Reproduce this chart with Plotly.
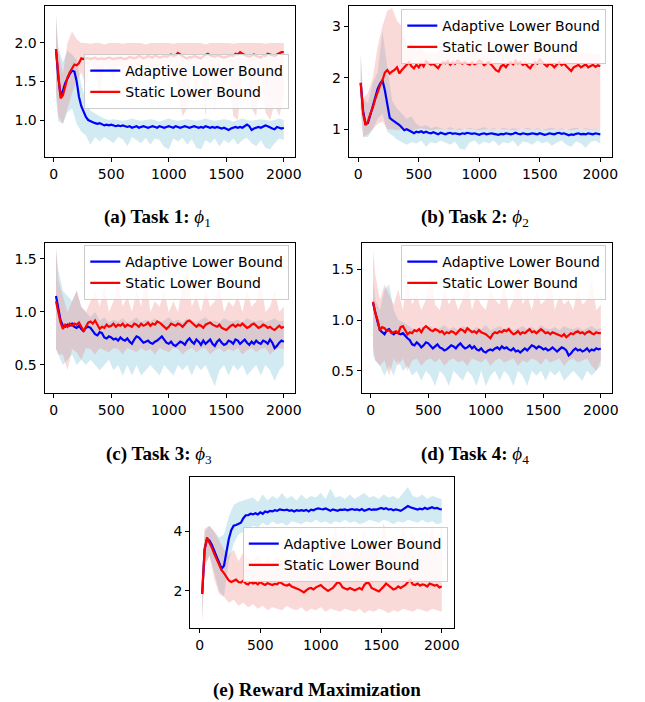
import plotly.graph_objects as go

# ---------------- data ----------------
STEPS = list(range(20, 2001, 20))            # x of mean curves (100 points)
BAND_STEPS = [20] + list(range(40, 2001, 40))  # x of min/max bands (51 points)

SERIES_NAMES = ["Adaptive Lower Bound", "Static Lower Bound"]
PANEL_TITLES = [
    "<b>(a) Task 1:</b> <i>ϕ</i><sub>1</sub>",
    "<b>(b) Task 2:</b> <i>ϕ</i><sub>2</sub>",
    "<b>(c) Task 3:</b> <i>ϕ</i><sub>3</sub>",
    "<b>(d) Task 4:</b> <i>ϕ</i><sub>4</sub>",
    "<b>(e) Reward Maximization</b>",
]
X_TICKS = [0, 500, 1000, 1500, 2000]

# ---- (a) Task 1 ----
A_ADAPT_MEAN = [
    1.92, 1.55, 1.32, 1.38, 1.48, 1.55, 1.60, 1.64, 1.63, 1.50, 1.30, 1.18, 1.10, 1.04, 1.00, 0.98, 0.97, 0.96, 0.95, 0.96,
    0.94, 0.93, 0.94, 0.93, 0.94, 0.93, 0.92, 0.93, 0.92, 0.93, 0.92, 0.91, 0.92, 0.90, 0.91, 0.92, 0.90, 0.91, 0.92, 0.91,
    0.90, 0.91, 0.92, 0.91, 0.90, 0.92, 0.91, 0.90, 0.91, 0.92, 0.91, 0.90, 0.92, 0.91, 0.90, 0.91, 0.92, 0.91, 0.90, 0.91,
    0.92, 0.91, 0.90, 0.91, 0.90, 0.92, 0.91, 0.90, 0.91, 0.90, 0.91, 0.90, 0.89, 0.90, 0.88, 0.87, 0.89, 0.90, 0.91, 0.90,
    0.91, 0.90, 0.92, 0.94, 0.92, 0.87, 0.89, 0.90, 0.91, 0.90, 0.92, 0.93, 0.92, 0.90, 0.89, 0.88, 0.91, 0.90, 0.89, 0.90,
]
A_STATIC_MEAN = [
    1.92, 1.55, 1.28, 1.32, 1.45, 1.55, 1.62, 1.68, 1.72, 1.71, 1.74, 1.80, 1.79, 1.80, 1.80, 1.79, 1.80, 1.81, 1.79, 1.80,
    1.80, 1.79, 1.80, 1.81, 1.80, 1.79, 1.80, 1.80, 1.81, 1.80, 1.79, 1.80, 1.82, 1.81, 1.80, 1.81, 1.83, 1.82, 1.80, 1.81,
    1.83, 1.82, 1.81, 1.84, 1.83, 1.81, 1.82, 1.83, 1.82, 1.84, 1.85, 1.83, 1.84, 1.87, 1.85, 1.82, 1.81, 1.80, 1.82, 1.81,
    1.83, 1.82, 1.81, 1.80, 1.83, 1.84, 1.86, 1.84, 1.83, 1.82, 1.84, 1.83, 1.82, 1.81, 1.82, 1.83, 1.84, 1.83, 1.86, 1.85,
    1.88, 1.86, 1.84, 1.83, 1.82, 1.84, 1.85, 1.83, 1.82, 1.81, 1.84, 1.83, 1.86, 1.85, 1.84, 1.83, 1.85, 1.87, 1.88, 1.88,
]
A_ADAPT_HI = [
    2.40, 1.95, 1.75, 1.90, 1.85, 1.78, 1.45, 1.25, 1.12, 1.08,
    1.05, 1.02, 1.00, 1.01, 1.00, 0.99, 1.00, 1.02, 1.00, 0.99,
    1.00, 1.01, 1.00, 0.98, 1.00, 1.02, 1.00, 0.99, 1.00, 1.01,
    1.00, 0.99, 1.00, 1.02, 1.00, 0.99, 1.00, 1.01, 1.00, 0.98,
    1.00, 1.02, 1.00, 0.99, 1.00, 1.01, 1.00, 0.99, 1.00, 1.02,
    1.00,
]
A_ADAPT_LO = [
    1.30, 0.98, 0.95, 1.10, 1.15, 0.95, 0.85, 0.80, 0.68, 0.78,
    0.72, 0.78, 0.74, 0.70, 0.78, 0.75, 0.66, 0.78, 0.74, 0.70,
    0.77, 0.68, 0.76, 0.74, 0.65, 0.62, 0.76, 0.72, 0.77, 0.68,
    0.75, 0.64, 0.62, 0.74, 0.70, 0.76, 0.66, 0.74, 0.70, 0.76,
    0.68, 0.74, 0.77, 0.70, 0.66, 0.74, 0.64, 0.62, 0.70, 0.76,
    0.74,
]
A_STATIC_HI = [
    2.30, 1.90, 1.60, 2.00, 2.15, 2.05, 2.00, 2.00, 1.99, 2.00,
    2.00, 1.98, 2.00, 2.00, 2.00, 1.99, 2.00, 2.00, 2.00, 2.00,
    1.98, 2.00, 2.00, 2.00, 2.00, 2.00, 1.99, 2.00, 2.00, 2.00,
    2.00, 2.00, 2.00, 1.98, 2.00, 2.00, 2.00, 2.00, 2.00, 1.99,
    2.00, 2.00, 2.00, 2.00, 2.00, 2.00, 1.99, 2.00, 2.00, 2.00,
    2.00,
]
A_STATIC_LO = [
    1.40, 1.05, 0.95, 1.15, 1.35, 1.50, 1.62, 1.45, 1.70, 1.66,
    1.30, 1.72, 1.68, 1.50, 1.72, 1.65, 1.70, 1.25, 1.70, 1.72,
    1.66, 1.70, 1.45, 1.72, 1.68, 1.60, 1.72, 1.40, 1.05, 1.15,
    1.70, 1.20, 1.68, 1.05, 1.60, 1.10, 1.65, 1.30, 1.72, 1.05,
    1.00, 1.60, 1.72, 1.15, 1.05, 1.68, 1.10, 1.00, 1.20, 1.05,
    1.30,
]

# ---- (b) Task 2 ----
B_ADAPT_MEAN = [
    1.90, 1.35, 1.10, 1.12, 1.28, 1.45, 1.62, 1.78, 1.88, 1.95, 1.75, 1.45, 1.22, 1.18, 1.15, 1.12, 1.08, 1.03, 0.98, 1.00,
    0.98, 0.95, 0.92, 0.95, 0.94, 0.96, 0.93, 0.95, 0.93, 0.92, 0.94, 0.92, 0.90, 0.93, 0.92, 0.90, 0.92, 0.93, 0.91, 0.92,
    0.91, 0.90, 0.92, 0.91, 0.93, 0.92, 0.91, 0.92, 0.90, 0.89, 0.91, 0.92, 0.90, 0.91, 0.92, 0.91, 0.90, 0.89, 0.91, 0.90,
    0.92, 0.91, 0.90, 0.91, 0.93, 0.91, 0.90, 0.92, 0.91, 0.90, 0.91, 0.92, 0.91, 0.90, 0.92, 0.91, 0.89, 0.90, 0.92, 0.91,
    0.90, 0.92, 0.93, 0.91, 0.92, 0.90, 0.88, 0.90, 0.89, 0.91, 0.92, 0.90, 0.91, 0.90, 0.92, 0.91, 0.90, 0.92, 0.91, 0.90,
]
B_STATIC_MEAN = [
    1.90, 1.30, 1.08, 1.15, 1.30, 1.42, 1.58, 1.72, 1.85, 1.95, 2.10, 2.15, 2.08, 2.12, 2.15, 2.20, 2.08, 2.15, 2.20, 2.25,
    2.30, 2.22, 2.18, 2.25, 2.20, 2.28, 2.22, 2.32, 2.28, 2.25, 2.27, 2.22, 2.18, 2.26, 2.30, 2.28, 2.32, 2.25, 2.30, 2.27,
    2.33, 2.30, 2.27, 2.30, 2.28, 2.25, 2.30, 2.26, 2.28, 2.33, 2.30, 2.24, 2.28, 2.30, 2.25, 2.20, 2.14, 2.12, 2.22, 2.25,
    2.20, 2.27, 2.30, 2.26, 2.33, 2.28, 2.30, 2.25, 2.28, 2.22, 2.18, 2.25, 2.30, 2.27, 2.35, 2.30, 2.25, 2.22, 2.28, 2.25,
    2.20, 2.26, 2.30, 2.24, 2.28, 2.22, 2.18, 2.13, 2.20, 2.22, 2.25, 2.20, 2.23, 2.26, 2.20, 2.22, 2.25, 2.21, 2.24, 2.22,
]
B_ADAPT_HI = [
    2.45, 1.60, 1.50, 1.90, 2.10, 2.90, 2.20, 1.55, 1.40, 1.30,
    1.20, 1.25, 1.10, 1.05, 1.08, 1.02, 1.05, 1.02, 1.00, 1.04,
    1.00, 1.02, 0.99, 1.03, 1.00, 1.01, 1.04, 1.00, 1.02, 0.99,
    1.03, 1.00, 1.02, 1.01, 1.00, 1.03, 0.99, 1.02, 1.00, 1.01,
    1.03, 1.00, 1.02, 0.99, 1.01, 1.03, 1.00, 1.02, 1.00, 1.01,
    1.00,
]
B_ADAPT_LO = [
    1.40, 0.85, 0.85, 1.00, 1.20, 1.30, 0.95, 0.88, 0.80, 0.75,
    0.70, 0.75, 0.72, 0.78, 0.66, 0.75, 0.72, 0.78, 0.74, 0.70,
    0.76, 0.62, 0.60, 0.74, 0.78, 0.70, 0.76, 0.72, 0.78, 0.68,
    0.75, 0.72, 0.78, 0.66, 0.76, 0.74, 0.70, 0.78, 0.72, 0.76,
    0.68, 0.74, 0.78, 0.70, 0.66, 0.76, 0.72, 0.64, 0.75, 0.78,
    0.72,
]
B_STATIC_HI = [
    2.45, 1.60, 1.70, 2.00, 2.60, 3.00, 3.30, 3.35, 3.10, 3.00,
    2.60, 2.70, 2.55, 2.60, 2.45, 2.50, 2.45, 2.55, 2.45, 2.50,
    2.45, 2.48, 2.45, 2.50, 2.55, 2.45, 2.50, 2.45, 2.48, 2.52,
    2.45, 2.50, 2.45, 2.55, 2.48, 2.45, 2.50, 2.60, 2.50, 2.45,
    2.48, 2.45, 2.50, 2.45, 2.48, 2.45, 2.50, 2.45, 2.48, 2.45,
    2.45,
]
B_STATIC_LO = [
    1.40, 0.85, 0.90, 1.00, 1.10, 1.15, 1.00, 1.00, 0.98, 1.00,
    1.00, 0.98, 1.00, 1.02, 1.00, 0.98, 1.00, 1.00, 0.99, 1.00,
    1.00, 0.99, 1.00, 1.01, 1.00, 0.98, 1.00, 1.00, 0.99, 1.00,
    1.00, 1.00, 0.98, 1.00, 1.01, 1.00, 0.99, 1.00, 1.00, 0.98,
    1.00, 0.99, 1.00, 1.00, 0.98, 1.00, 1.01, 1.00, 0.99, 1.00,
    1.00,
]

# ---- (c) Task 3 ----
C_ADAPT_MEAN = [
    1.15, 1.05, 0.92, 0.87, 0.86, 0.88, 0.87, 0.89, 0.86, 0.85, 0.87, 0.84, 0.82, 0.85, 0.86, 0.85, 0.82, 0.79, 0.78, 0.81,
    0.80, 0.76, 0.75, 0.77, 0.76, 0.74, 0.75, 0.73, 0.76, 0.74, 0.73, 0.75, 0.72, 0.70, 0.74, 0.77, 0.76, 0.73, 0.71, 0.72,
    0.73, 0.71, 0.70, 0.72, 0.73, 0.75, 0.77, 0.74, 0.71, 0.70, 0.72, 0.69, 0.68, 0.70, 0.72, 0.71, 0.69, 0.73, 0.75, 0.72,
    0.70, 0.74, 0.72, 0.69, 0.73, 0.70, 0.72, 0.74, 0.70, 0.68, 0.72, 0.74, 0.71, 0.69, 0.70, 0.73, 0.72, 0.70, 0.74, 0.73,
    0.70, 0.72, 0.74, 0.71, 0.69, 0.72, 0.70, 0.73, 0.71, 0.70, 0.73, 0.72, 0.70, 0.74, 0.71, 0.66, 0.68, 0.71, 0.73, 0.72,
]
C_STATIC_MEAN = [
    1.10, 1.00, 0.90, 0.84, 0.88, 0.86, 0.89, 0.87, 0.89, 0.88, 0.90, 0.86, 0.82, 0.86, 0.90, 0.91, 0.89, 0.92, 0.88, 0.84,
    0.86, 0.85, 0.88, 0.86, 0.87, 0.89, 0.86, 0.88, 0.87, 0.89, 0.86, 0.88, 0.87, 0.86, 0.89, 0.88, 0.86, 0.89, 0.87, 0.88,
    0.90, 0.87, 0.89, 0.88, 0.91, 0.90, 0.88, 0.86, 0.84, 0.86, 0.89, 0.88, 0.87, 0.89, 0.88, 0.86, 0.89, 0.91, 0.92, 0.90,
    0.88, 0.86, 0.88, 0.87, 0.85, 0.88, 0.89, 0.90, 0.88, 0.87, 0.86, 0.88, 0.85, 0.84, 0.83, 0.85, 0.87, 0.88, 0.86, 0.88,
    0.87, 0.89, 0.87, 0.85, 0.86, 0.88, 0.89, 0.87, 0.85, 0.86, 0.88, 0.87, 0.85, 0.86, 0.84, 0.83, 0.85, 0.87, 0.85, 0.86,
]
C_ADAPT_HI = [
    1.60, 1.40, 1.20, 1.15, 1.10, 1.20, 1.05, 1.00, 0.95, 1.00,
    0.92, 0.95, 0.90, 0.93, 0.91, 0.94, 0.90, 0.92, 0.95, 0.90,
    0.93, 0.91, 0.94, 0.90, 0.92, 0.95, 0.91, 0.93, 0.90, 0.94,
    0.92, 0.90, 0.93, 0.95, 0.91, 0.92, 0.90, 0.94, 0.92, 0.91,
    0.93, 0.90, 0.94, 0.92, 0.91, 0.93, 0.90, 0.92, 0.94, 0.91,
    0.92,
]
C_ADAPT_LO = [
    0.65, 0.60, 0.50, 0.55, 0.60, 0.50, 0.55, 0.50, 0.55, 0.50,
    0.45, 0.50, 0.55, 0.45, 0.50, 0.40, 0.50, 0.40, 0.50, 0.40,
    0.45, 0.50, 0.45, 0.40, 0.50, 0.45, 0.40, 0.50, 0.45, 0.50,
    0.40, 0.50, 0.45, 0.50, 0.40, 0.30, 0.45, 0.50, 0.40, 0.50,
    0.45, 0.50, 0.40, 0.45, 0.50, 0.40, 0.50, 0.45, 0.35, 0.45,
    0.50,
]
C_STATIC_HI = [
    1.60, 1.30, 1.15, 1.00, 1.10, 1.20, 1.05, 1.00, 1.10, 1.20,
    1.05, 1.25, 1.00, 1.10, 1.30, 1.05, 1.15, 1.00, 1.20, 1.05,
    1.35, 1.00, 1.10, 1.05, 1.20, 1.00, 1.10, 1.00, 1.25, 1.40,
    1.05, 1.15, 1.00, 1.20, 1.05, 1.10, 1.25, 1.00, 1.10, 1.05,
    1.15, 1.00, 1.20, 1.05, 1.10, 1.30, 1.00, 1.05, 1.20, 1.00,
    1.05,
]
C_STATIC_LO = [
    0.65, 0.60, 0.60, 0.45, 0.65, 0.62, 0.55, 0.66, 0.65, 0.60,
    0.66, 0.64, 0.62, 0.66, 0.65, 0.60, 0.66, 0.64, 0.62, 0.66,
    0.63, 0.65, 0.60, 0.66, 0.64, 0.62, 0.66, 0.65, 0.60, 0.64,
    0.66, 0.62, 0.65, 0.66, 0.60, 0.64, 0.66, 0.62, 0.65, 0.63,
    0.66, 0.60, 0.64, 0.66, 0.62, 0.65, 0.66, 0.60, 0.64, 0.66,
    0.65,
]

# ---- (d) Task 4 ----
D_ADAPT_MEAN = [
    1.17, 1.06, 0.98, 0.90, 0.88, 0.86, 0.90, 0.91, 0.88, 0.86, 0.88, 0.87, 0.86, 0.87, 0.84, 0.82, 0.80, 0.76, 0.75, 0.78,
    0.76, 0.73, 0.75, 0.78, 0.77, 0.74, 0.72, 0.74, 0.76, 0.73, 0.72, 0.70, 0.71, 0.73, 0.75, 0.74, 0.72, 0.75, 0.77, 0.74,
    0.72, 0.73, 0.75, 0.72, 0.74, 0.71, 0.70, 0.72, 0.69, 0.68, 0.70, 0.71, 0.70, 0.72, 0.73, 0.71, 0.74, 0.72, 0.73, 0.71,
    0.70, 0.72, 0.69, 0.70, 0.68, 0.70, 0.72, 0.70, 0.73, 0.75, 0.74, 0.72, 0.74, 0.73, 0.71, 0.72, 0.70, 0.71, 0.73, 0.71,
    0.69, 0.71, 0.73, 0.72, 0.70, 0.65, 0.67, 0.70, 0.72, 0.70, 0.71, 0.69, 0.70, 0.72, 0.69, 0.71, 0.70, 0.72, 0.71, 0.72,
]
D_STATIC_MEAN = [
    1.18, 1.07, 1.00, 0.90, 0.93, 0.92, 0.89, 0.90, 0.87, 0.88, 0.89, 0.87, 0.93, 0.94, 0.90, 0.86, 0.88, 0.87, 0.90, 0.89,
    0.91, 0.88, 0.92, 0.94, 0.92, 0.90, 0.89, 0.91, 0.90, 0.88, 0.89, 0.86, 0.88, 0.87, 0.89, 0.88, 0.86, 0.89, 0.91, 0.90,
    0.88, 0.92, 0.90, 0.88, 0.89, 0.87, 0.90, 0.88, 0.87, 0.86, 0.84, 0.82, 0.86, 0.88, 0.87, 0.89, 0.88, 0.90, 0.89, 0.91,
    0.88, 0.86, 0.87, 0.89, 0.86, 0.88, 0.87, 0.89, 0.91, 0.88, 0.89, 0.87, 0.89, 0.91, 0.89, 0.87, 0.88, 0.86, 0.88, 0.87,
    0.86, 0.85, 0.84, 0.86, 0.83, 0.85, 0.87, 0.86, 0.88, 0.89, 0.87, 0.88, 0.86, 0.88, 0.89, 0.87, 0.86, 0.88, 0.87, 0.87,
]
D_ADAPT_HI = [
    1.40, 1.20, 1.10, 1.30, 1.35, 1.10, 1.00, 0.98, 0.95, 0.92,
    0.90, 0.93, 0.91, 0.94, 0.90, 0.92, 0.95, 0.91, 0.93, 0.90,
    0.94, 0.92, 0.90, 0.93, 0.91, 0.95, 0.90, 0.92, 0.94, 0.91,
    0.93, 0.90, 0.92, 0.94, 0.91, 0.93, 0.90, 0.95, 0.92, 0.91,
    0.93, 0.90, 0.94, 0.92, 0.91, 0.93, 0.90, 0.92, 0.94, 0.91,
    0.92,
]
D_ADAPT_LO = [
    0.65, 0.60, 0.55, 0.45, 0.55, 0.45, 0.60, 0.50, 0.55, 0.45,
    0.50, 0.40, 0.50, 0.45, 0.35, 0.50, 0.45, 0.35, 0.50, 0.45,
    0.40, 0.50, 0.45, 0.35, 0.50, 0.35, 0.45, 0.50, 0.40, 0.50,
    0.45, 0.35, 0.50, 0.45, 0.35, 0.50, 0.45, 0.50, 0.40, 0.50,
    0.45, 0.50, 0.40, 0.45, 0.50, 0.45, 0.40, 0.50, 0.45, 0.50,
    0.55,
]
D_STATIC_HI = [
    1.70, 1.45, 1.20, 1.35, 1.25, 1.15, 1.30, 1.10, 1.40, 1.15,
    1.25, 1.10, 1.20, 1.45, 1.15, 1.10, 1.30, 1.15, 1.25, 1.10,
    1.20, 1.40, 1.10, 1.25, 1.15, 1.10, 1.30, 1.20, 1.15, 1.35,
    1.10, 1.20, 1.45, 1.15, 1.25, 1.10, 1.30, 1.15, 1.20, 1.45,
    1.10, 1.25, 1.15, 1.20, 1.10, 1.30, 1.15, 1.20, 1.40, 1.10,
    1.15,
]
D_STATIC_LO = [
    0.75, 0.60, 0.55, 0.60, 0.45, 0.62, 0.55, 0.62, 0.50, 0.60,
    0.62, 0.55, 0.60, 0.62, 0.58, 0.62, 0.55, 0.60, 0.62, 0.58,
    0.60, 0.55, 0.62, 0.60, 0.58, 0.62, 0.55, 0.60, 0.62, 0.58,
    0.60, 0.62, 0.55, 0.60, 0.58, 0.62, 0.60, 0.56, 0.62, 0.58,
    0.60, 0.62, 0.55, 0.60, 0.62, 0.58, 0.60, 0.62, 0.55, 0.50,
    0.60,
]

# ---- (e) Reward maximization ----
E_ADAPT_MEAN = [
    1.90, 3.40, 3.75, 3.70, 3.55, 3.35, 3.15, 2.95, 2.75, 2.85, 3.30, 3.75, 4.05, 4.20, 4.22, 4.25, 4.30, 4.45, 4.55, 4.55,
    4.60, 4.58, 4.62, 4.58, 4.65, 4.60, 4.68, 4.65, 4.70, 4.68, 4.72, 4.70, 4.75, 4.73, 4.72, 4.74, 4.70, 4.72, 4.68, 4.72,
    4.70, 4.72, 4.70, 4.73, 4.68, 4.74, 4.72, 4.76, 4.78, 4.76, 4.75, 4.78, 4.74, 4.70, 4.75, 4.72, 4.70, 4.74, 4.73, 4.75,
    4.72, 4.74, 4.76, 4.73, 4.75, 4.72, 4.76, 4.70, 4.74, 4.76, 4.73, 4.75, 4.74, 4.78, 4.80, 4.76, 4.79, 4.74, 4.76, 4.72,
    4.75, 4.73, 4.70, 4.75, 4.80, 4.86, 4.82, 4.80, 4.78, 4.74, 4.77, 4.75, 4.80, 4.76, 4.79, 4.82, 4.78, 4.80, 4.76, 4.75,
]
E_STATIC_MEAN = [
    1.90, 3.40, 3.80, 3.65, 3.45, 3.25, 3.05, 2.85, 2.70, 2.60, 2.45, 2.35, 2.30, 2.35, 2.38, 2.30, 2.28, 2.35, 2.25, 2.22,
    2.30, 2.25, 2.28, 2.22, 2.30, 2.24, 2.20, 2.26, 2.22, 2.20, 2.24, 2.22, 2.30, 2.25, 2.20, 2.18, 2.22, 2.15, 2.12, 2.10,
    2.05, 2.00, 1.95, 2.02, 2.08, 2.10, 2.05, 2.12, 2.15, 2.20, 2.12, 2.05, 2.00, 2.05, 2.10, 2.20, 2.30, 2.25, 2.12, 2.08,
    2.05, 2.10, 2.05, 2.02, 2.06, 2.10, 2.05, 2.20, 2.28, 2.25, 2.10, 2.05, 2.02, 1.98, 2.05, 2.15, 2.25, 2.18, 2.10, 2.05,
    2.08, 2.15, 2.10, 2.15, 2.20, 2.30, 2.38, 2.22, 2.20, 2.25, 2.18, 2.22, 2.20, 2.15, 2.25, 2.22, 2.18, 2.20, 2.12, 2.15,
]
E_ADAPT_HI = [
    2.40, 4.00, 4.20, 4.00, 3.80, 3.90, 4.50, 4.90, 5.00, 5.05,
    5.10, 5.15, 5.00, 5.25, 5.05, 5.20, 5.10, 5.30, 5.10, 5.20,
    5.05, 5.25, 5.10, 5.20, 5.15, 5.30, 5.10, 5.45, 5.15, 5.20,
    5.10, 5.25, 5.10, 5.20, 5.30, 5.15, 5.20, 5.10, 5.25, 5.15,
    5.20, 5.10, 5.30, 5.50, 5.20, 5.15, 5.25, 5.10, 5.20, 5.15,
    5.10,
]
E_ADAPT_LO = [
    1.10, 2.80, 3.20, 2.60, 2.00, 1.80, 3.00, 3.60, 3.90, 4.00,
    4.10, 4.20, 4.15, 4.30, 4.20, 4.35, 4.25, 4.30, 4.20, 4.35,
    4.30, 4.25, 4.35, 4.30, 4.40, 4.30, 4.35, 4.25, 4.35, 4.30,
    4.40, 4.30, 4.35, 4.25, 4.30, 4.40, 4.35, 4.30, 4.40, 4.35,
    4.25, 4.35, 4.30, 4.40, 4.35, 4.30, 4.40, 4.30, 4.35, 4.25,
    4.30,
]
E_STATIC_HI = [
    2.30, 4.10, 4.20, 4.00, 3.70, 3.40, 3.20, 3.40, 3.00, 3.30,
    3.10, 3.00, 3.20, 2.90, 3.10, 3.00, 3.20, 2.95, 3.10, 3.00,
    2.90, 3.00, 2.90, 3.10, 3.00, 3.20, 3.00, 3.10, 4.20, 3.40,
    4.00, 3.20, 3.60, 3.10, 4.10, 3.30, 3.80, 3.20, 4.30, 3.40,
    3.90, 3.20, 4.20, 3.50, 4.00, 3.30, 3.80, 3.40, 4.20, 3.50,
    4.20,
]
E_STATIC_LO = [
    0.90, 2.80, 3.20, 2.40, 1.90, 1.80, 1.60, 1.70, 1.50, 1.60,
    1.45, 1.55, 1.40, 1.50, 1.35, 1.45, 1.40, 1.35, 1.50, 1.40,
    1.35, 1.45, 1.30, 1.40, 1.35, 1.45, 1.30, 1.40, 1.35, 1.30,
    1.40, 1.35, 1.30, 1.40, 1.25, 1.35, 1.30, 1.40, 1.35, 1.25,
    1.35, 1.30, 1.40, 1.35, 1.30, 1.40, 1.35, 1.30, 1.40, 1.35,
    1.30,
]

PANELS = [
    (A_ADAPT_MEAN, A_STATIC_MEAN, A_ADAPT_LO, A_ADAPT_HI, A_STATIC_LO, A_STATIC_HI),
    (B_ADAPT_MEAN, B_STATIC_MEAN, B_ADAPT_LO, B_ADAPT_HI, B_STATIC_LO, B_STATIC_HI),
    (C_ADAPT_MEAN, C_STATIC_MEAN, C_ADAPT_LO, C_ADAPT_HI, C_STATIC_LO, C_STATIC_HI),
    (D_ADAPT_MEAN, D_STATIC_MEAN, D_ADAPT_LO, D_ADAPT_HI, D_STATIC_LO, D_STATIC_HI),
    (E_ADAPT_MEAN, E_STATIC_MEAN, E_ADAPT_LO, E_ADAPT_HI, E_STATIC_LO, E_STATIC_HI),
]
for p in PANELS:
    assert len(p[0]) == len(STEPS) and len(p[1]) == len(STEPS)
    for band in p[2:]:
        assert len(band) == len(BAND_STEPS), len(band)

# ---------------- layout ----------------
W, H = 645, 702
# axes frames in pixels: (left, right, top, bottom)
FRAMES = [(45, 298, 6, 157), (352, 618, 6, 157), (45, 298, 243, 393),
          (365, 618, 243, 393), (192, 458, 477, 628)]
Y_RANGES = [(0.52, 2.48), (0.46, 3.39), (0.236, 1.65), (0.28, 1.76), (0.75, 5.84)]
Y_TICKS = [[1.0, 1.5, 2.0], [1, 2, 3], [0.5, 1.0, 1.5], [0.5, 1.0, 1.5], [2, 4]]
Y_FMT = [".1f", "d", ".1f", ".1f", "d"]
# legend box (right, top) in pixels
LEGENDS = [(292, 54), (612, 9), (292, 245), (612, 245), (452, 527)]
CAPTIONS = [(159, 218), (479, 218), (160, 455), (479, 455), (320, 690)]

BLUE, RED = "#0000ff", "#ff0000"
BLUE_FILL, RED_FILL = "rgba(173,216,230,0.55)", "rgba(240,128,128,0.30)"
TICK_FONT = dict(family="DejaVu Sans", size=14, color="black")

fig = go.Figure()
layout = dict(width=W, height=H, margin=dict(l=0, r=0, t=0, b=0),
              paper_bgcolor="white", plot_bgcolor="white", showlegend=True)
annotations = []

for i, (am, sm, alo, ahi, slo, shi) in enumerate(PANELS):
    k = "" if i == 0 else str(i + 1)
    xa, ya, lg = "x" + k, "y" + k, "legend" + k
    # bands
    for lo, hi, col in ((alo, ahi, BLUE_FILL), (slo, shi, RED_FILL)):
        fig.add_trace(go.Scatter(
            x=BAND_STEPS + BAND_STEPS[::-1], y=hi + lo[::-1],
            fill="toself", fillcolor=col, line=dict(width=0),
            mode="lines", showlegend=False, hoverinfo="skip",
            xaxis=xa, yaxis=ya))
    # means
    for ys, col, name in ((am, BLUE, SERIES_NAMES[0]), (sm, RED, SERIES_NAMES[1])):
        fig.add_trace(go.Scatter(
            x=STEPS, y=ys, mode="lines", name=name,
            line=dict(color=col, width=2.2),
            xaxis=xa, yaxis=ya, legend=lg))

    l, r, t, b = FRAMES[i]
    axis_common = dict(showline=True, mirror=True, linecolor="black", linewidth=1,
                       ticks="outside", ticklen=4, tickwidth=1, tickcolor="black",
                       showgrid=False, zeroline=False, tickfont=TICK_FONT)
    layout["xaxis" + k] = dict(domain=[l / W, r / W], range=[-79, 2099],
                               tickvals=X_TICKS, anchor=ya, **axis_common)
    layout["yaxis" + k] = dict(domain=[1 - b / H, 1 - t / H], range=list(Y_RANGES[i]),
                               tickvals=Y_TICKS[i], tickformat=Y_FMT[i], anchor=xa,
                               **axis_common)
    lx, ly = LEGENDS[i]
    layout[lg] = dict(x=lx / W, y=1 - ly / H, xanchor="right", yanchor="top",
                      xref="paper", yref="paper",
                      bgcolor="rgba(255,255,255,0.8)", bordercolor="#cccccc",
                      borderwidth=1, itemwidth=30,
                      font=dict(family="DejaVu Sans", size=14, color="black"),
                      tracegroupgap=0)
    cx, cy = CAPTIONS[i]
    annotations.append(dict(text=PANEL_TITLES[i], x=cx / W, y=1 - cy / H,
                            xref="paper", yref="paper", showarrow=False,
                            xanchor="center", yanchor="middle",
                            font=dict(family="Liberation Serif", size=19, color="black")))

layout["annotations"] = annotations
fig.update_layout(**layout)
fig.write_html("out.html", config={"displayModeBar": False},
               post_script="document.body.style.margin='0';document.body.style.overflow='hidden';")
